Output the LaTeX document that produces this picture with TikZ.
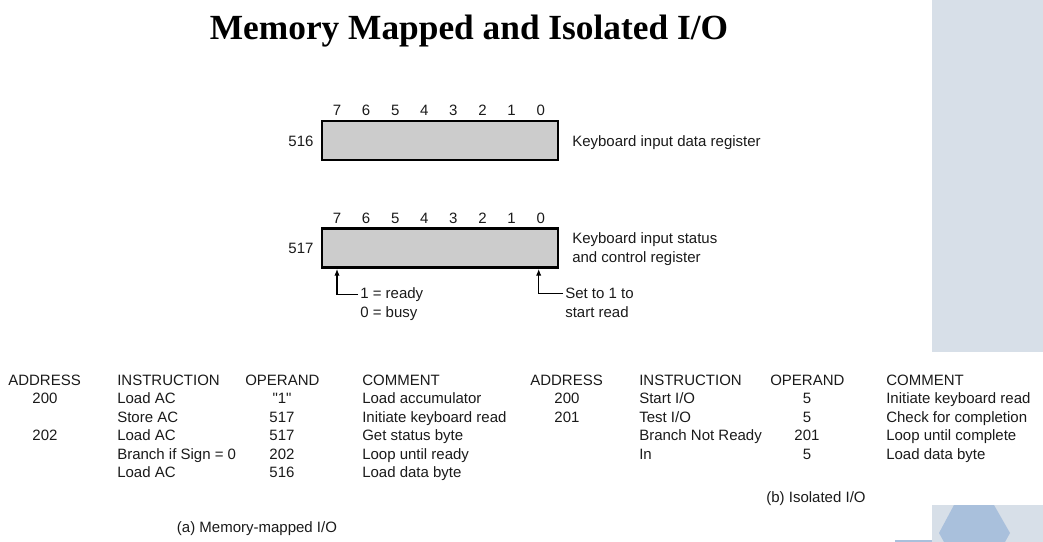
\documentclass[tikz,border=0pt]{standalone}
\usepackage{fontspec}
\setmainfont{Liberation Sans}
\newfontfamily\titlefont{Liberation Serif}
\newfontfamily\qfont{Liberation Sans}[Ligatures=TeXOff]
\usetikzlibrary{arrows.meta}
\definecolor{panel}{HTML}{D7DFE8}
\definecolor{hexblue}{HTML}{A9C0DC}
\definecolor{regfill}{HTML}{CCCCCC}
\definecolor{ink}{HTML}{1A1A1A}
\begin{document}
\begin{tikzpicture}[x=0.75pt,y=-0.75pt,
  txt/.style={font=\fontsize{11.25}{13}\selectfont, text=ink, inner sep=0pt},
  lw/.style={txt, anchor=base west},
  ctr/.style={txt, anchor=base},
  regbox/.style={draw=black, line width=2.2pt, fill=regfill, minimum width=177pt, minimum height=29.25pt, inner sep=0pt},
  arr/.style={draw=black, line width=0.9pt, -{Latex[length=5pt,width=4pt]}}]

\useasboundingbox (0,0) rectangle (1043,542);
% background decoration
\fill[panel] (932,0) rectangle (1043,352);
\fill[panel] (932,505) rectangle (1043,542);
\fill[hexblue] (954,505) -- (994,505) -- (1010,533) -- (1005,542) -- (944,542) -- (939,533) -- cycle;
\fill[hexblue] (895,539.5) rectangle (932,542);

% title
\node[inner sep=0pt, anchor=base, font=\titlefont\bfseries\fontsize{26.5}{30}\selectfont] (title) at (469,39.5) {Memory Mapped and Isolated I/O};

% registers
\node[regbox] (r1) at (440,140.5) {};
\node[regbox] (r2) at (440,248) {};
\foreach \b [count=\i from 0] in {7,6,5,4,3,2,1,0} {
  \node[ctr] (ba\b) at (337+29.1*\i,115.5) {\b};
  \node[ctr] (bb\b) at (337+29.1*\i,223.5) {\b};
}
\node[ctr] (a516) at (301,146.5) {516};
\node[ctr] (a517) at (301,253.5) {517};
\node[lw] (kd) at (572,146.5) {Keyboard input data register};
\node[lw] (ks1) at (572,243.5) {Keyboard input status};
\node[lw] (ks2) at (572,262.5) {and control register};

\node[lw] (ready) at (360,298.5) {1 = ready};
\node[lw] (busy) at (360,317.5) {0 = busy};
\node[lw] (set1) at (565,298.5) {Set to 1 to};
\node[lw] (set2) at (565,317.5) {start read};
\draw[arr] ([xshift=-1.5pt]ready.west) -| (bb7 |- r2.south);
\draw[arr] ([xshift=-1.5pt]set1.west) -| ([xshift=-1.5pt]bb0 |- r2.south);

% left table
\node[lw] (lh1) at (8,385.5) {ADDRESS};
\node[lw] (lh2) at (117,385.5) {INSTRUCTION};
\node[lw] (lh3) at (245,385.5) {OPERAND};
\node[lw] (lh4) at (362,385.5) {COMMENT};

\node[ctr] (la1) at (45,403.5) {200};
\node[ctr] (la3) at (45,440.5) {202};

\node[lw] (li1) at (117,403.5) {Load AC};
\node[lw] (li2) at (117,422) {Store AC};
\node[lw] (li3) at (117,440.5) {Load AC};
\node[lw] (li4) at (117,459) {Branch if Sign = 0};
\node[lw] (li5) at (117,477.5) {Load AC};

\node[ctr] (lo1) at (282,403.5) {\qfont "1"};
\node[ctr] (lo2) at (282,422) {517};
\node[ctr] (lo3) at (282,440.5) {517};
\node[ctr] (lo4) at (282,459) {202};
\node[ctr] (lo5) at (282,477.5) {516};

\node[lw] (lc1) at (362,403.5) {Load accumulator};
\node[lw] (lc2) at (362,422) {Initiate keyboard read};
\node[lw] (lc3) at (362,440.5) {Get status byte};
\node[lw] (lc4) at (362,459) {Loop until ready};
\node[lw] (lc5) at (362,477.5) {Load data byte};

\node[ctr] (capa) at (257,532.5) {(a) Memory-mapped I/O};

% right table
\node[lw] (rh1) at (530,385.5) {ADDRESS};
\node[lw] (rh2) at (639,385.5) {INSTRUCTION};
\node[lw] (rh3) at (770,385.5) {OPERAND};
\node[lw] (rh4) at (886,385.5) {COMMENT};

\node[ctr] (ra1) at (567,403.5) {200};
\node[ctr] (ra2) at (567,422) {201};

\node[lw] (ri1) at (639,403.5) {Start I/O};
\node[lw] (ri2) at (639,422) {Test I/O};
\node[lw] (ri3) at (639,440.5) {Branch Not Ready};
\node[lw] (ri4) at (639,459) {In};

\node[ctr] (ro1) at (807,403.5) {5};
\node[ctr] (ro2) at (807,422) {5};
\node[ctr] (ro3) at (807,440.5) {201};
\node[ctr] (ro4) at (807,459) {5};

\node[lw] (rc1) at (886,403.5) {Initiate keyboard read};
\node[lw] (rc2) at (886,422) {Check for completion};
\node[lw] (rc3) at (886,440.5) {Loop until complete};
\node[lw] (rc4) at (886,459) {Load data byte};

\node[ctr] (capb) at (816,502.5) {(b) Isolated I/O};
\end{tikzpicture}
\end{document}
